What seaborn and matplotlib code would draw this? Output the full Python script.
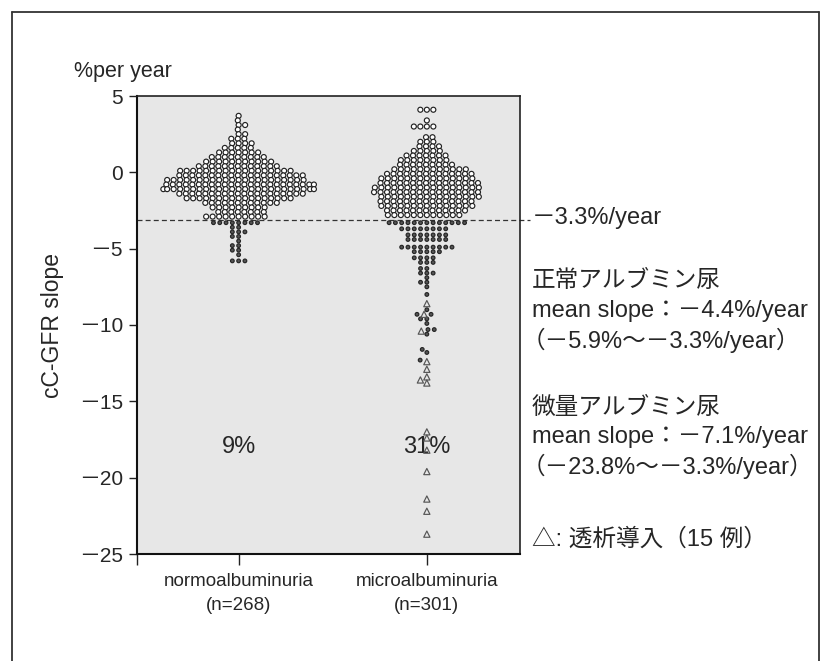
import numpy as np
import pandas as pd
import matplotlib
matplotlib.use("Agg")
import matplotlib.pyplot as plt
import seaborn as sns
from matplotlib import font_manager
from matplotlib.markers import MarkerStyle
from matplotlib.lines import Line2D
from matplotlib.colors import to_rgba

# ---------------- data ----------------
groups = ["normoalbuminuria\n(n=268)", "microalbuminuria\n(n=301)"]

normo_open_levels = [3.7, 3.4, 3.1, 2.8, 2.5, 2.2, 1.9, 1.6, 1.3, 1.0, 0.7, 0.4,
                     0.1, -0.2, -0.5, -0.8, -1.1, -1.4, -1.7, -2.0, -2.3, -2.6, -2.9]
normo_open_counts = [1, 1, 2, 1, 2, 3, 4, 5, 7, 9, 11, 13,
                     18, 20, 22, 24, 25, 20, 17, 12, 9, 8, 10]
normo_low_levels = [-3.3, -3.6, -3.9, -4.2, -4.5, -4.8, -5.1, -5.4, -5.8]
normo_low_counts = [8, 2, 3, 2, 1, 2, 2, 1, 3]

micro_open_levels = [4.1, 3.4, 3.0, 2.3, 2.0, 1.7, 1.4, 1.1, 0.8, 0.5, 0.2,
                     -0.1, -0.4, -0.7, -1.0, -1.3, -1.6, -1.9, -2.2, -2.5, -2.8]
micro_open_counts = [3, 1, 4, 2, 3, 4, 5, 7, 8, 9, 12,
                     14, 15, 16, 17, 17, 16, 15, 15, 13, 12]
micro_low_levels = [-3.3, -3.7, -4.1, -4.4, -4.9, -5.2, -5.6, -5.9, -6.3, -6.6,
                    -6.9, -7.2, -7.5, -8.0, -9.0, -9.3, -9.6, -9.9, -10.3,
                    -10.6, -11.6, -11.8, -12.3]
micro_low_counts = [13, 8, 7, 7, 9, 5, 4, 3, 2, 3,
                    1, 2, 1, 1, 1, 2, 2, 1, 2,
                    1, 1, 1, 1]
micro_dialysis = [-8.6, -9.3, -10.4, -12.4, -12.9, -13.4, -13.6, -13.8,
                  -17.0, -17.4, -18.2, -19.6, -21.4, -22.2, -23.7]

pct_labels = ["9%", "31%"]
pct_y = -18.0
threshold = -3.1
ytick_values = [5, 0, -5, -10, -15, -20, -25]
ytick_labels = ["5", "0", "－5", "－10", "－15", "－20", "－25"]

right_texts = [
    ("－3.3%/year", 218, 532),
    ("正常アルブミン尿", 281, 532),
    ("mean slope：－4.4%/year", 311, 532),
    ("（－5.9%～－3.3%/year）", 340, 522),
    ("微量アルブミン尿", 408, 532),
    ("mean slope：－7.1%/year", 437, 532),
    ("（－23.8%～－3.3%/year）", 466, 522),
    ("△: 透析導入（15 例）", 539, 532),
]

# ---------------- build table ----------------
rows = []
def add(grp, levels, counts, kind):
    for v, c in zip(levels, counts):
        rows.extend([(grp, v, kind)] * c)

add(groups[0], normo_open_levels, normo_open_counts, "open")
add(groups[0], normo_low_levels, normo_low_counts, "low")
add(groups[1], micro_open_levels, micro_open_counts, "open")
add(groups[1], micro_low_levels, micro_low_counts, "low")
add(groups[1], micro_dialysis, [1] * len(micro_dialysis), "dial")
df = pd.DataFrame(rows, columns=["group", "slope", "kind"])

# ---------------- fonts ----------------
sns.set_theme(style="ticks")
def has_font(name):
    try:
        font_manager.findfont(font_manager.FontProperties(family=name),
                              fallback_to_default=False)
        return True
    except Exception:
        return False

latin = "Liberation Sans" if has_font("Liberation Sans") else "DejaVu Sans"
cjk = "Noto Sans CJK JP"
plt.rcParams["font.family"] = [latin, cjk, "DejaVu Sans"]
plt.rcParams["axes.unicode_minus"] = False

W, H = 830, 661
fig = plt.figure(figsize=(W / 100, H / 100), dpi=100)
fig.patch.set_facecolor("white")
ax = fig.add_axes([137 / W, 1 - 554 / H, (520 - 137) / W, (554 - 96) / H])
ax.set_facecolor("#e7e7e7")

LW = 0.85
sns.swarmplot(data=df, x="group", y="slope", order=groups, ax=ax,
              size=3, color="white", edgecolor="#333333", linewidth=LW,
              warn_thresh=1.0)

def unit_path(m):
    ms = MarkerStyle(m)
    return ms.get_path().transformed(ms.get_transform())

circ = unit_path("o")
tri = unit_path("^")
# kind: (path, face, edge, drawn size, packing slot size)
styles = {
    "open": (circ, to_rgba("white"), to_rgba("#222222"), 13.0, 13.0),
    "low": (circ, to_rgba("#555555"), to_rgba("#262626"), 7.0, 12.0),
    "dial": (tri, to_rgba("white", 0.0), to_rgba("#555555"), 20.0, 20.0),
}
K = 1.34  # horizontal spread of the packed rows (rows overlap vertically as in the print)

XLIM = (-0.54, 1.495)
ax.set_ylim(-25, 5)
c, hw = (XLIM[0] + XLIM[1]) / 2, (XLIM[1] - XLIM[0]) / 2
ax.set_xlim(c - K * hw, c + K * hw)

final_sizes = []
for coll, grp in zip(ax.collections, groups):
    kinds = df.loc[df["group"] == grp, "kind"].tolist()
    coll.set_paths([styles[k][0] for k in kinds])
    coll.set_facecolors([styles[k][1] for k in kinds])
    coll.set_edgecolors([styles[k][2] for k in kinds])
    final_sizes.append(np.array([styles[k][3] for k in kinds]))
    slot = np.array([styles[k][4] for k in kinds])
    coll.set_sizes(((np.sqrt(slot) + LW) / K - LW) ** 2)
    coll.set_zorder(3)

fig.canvas.draw()  # seaborn packs the swarm here
for coll, S in zip(ax.collections, final_sizes):
    if "draw" in coll.__dict__:
        del coll.draw
    coll.set_sizes(S)
ax.set_xlim(*XLIM)

# axes cosmetics
ax.set_yticks(ytick_values)
ax.set_yticklabels(ytick_labels, fontsize=15)
ax.set_xticks([0, 1])
ax.set_xticklabels(groups, fontsize=13.5, linespacing=1.5)
ax.set_xticks([XLIM[0]], minor=True)
ax.tick_params(axis="y", length=6, width=1, pad=4, color="#222")
ax.tick_params(axis="x", which="both", length=8, width=1, pad=6, color="#222")
ax.set_xlabel("")
ax.set_ylabel("cC-GFR slope", fontsize=16.5)
ax.yaxis.set_label_coords(-0.19, 0.5)
for side in ["left", "bottom"]:
    ax.spines[side].set_linewidth(1.5)
    ax.spines[side].set_color("#111")
for side in ["top", "right"]:
    ax.spines[side].set_visible(True)
    ax.spines[side].set_linewidth(1.2)
    ax.spines[side].set_color("#222")

ax.axhline(threshold, xmin=0, xmax=1.026, clip_on=False, color="#333",
           lw=0.9, ls=(0, (4, 2.5)), zorder=1)

for i, t in enumerate(pct_labels):
    ax.text(i, pct_y, t, ha="center", va="center", fontsize=17, zorder=2)

fig.text(74 / W, 1 - 72 / H, "%per year", ha="left", va="center", fontsize=15.5)

for t, y, x in right_texts:
    fig.text(x / W, 1 - y / H, t, ha="left", va="center", fontsize=17,
             family=[latin, cjk])

# outer frame (left, top, right)
fx0, fx1, fy1 = 12 / W, 819 / W, 1 - 12 / H
for xs, ys in [([fx0, fx0], [0, fy1]), ([fx0, fx1], [fy1, fy1]), ([fx1, fx1], [fy1, 0])]:
    fig.add_artist(Line2D(xs, ys, transform=fig.transFigure, color="#333", lw=1.3))

fig.savefig("out.png", dpi=100, facecolor="white")
